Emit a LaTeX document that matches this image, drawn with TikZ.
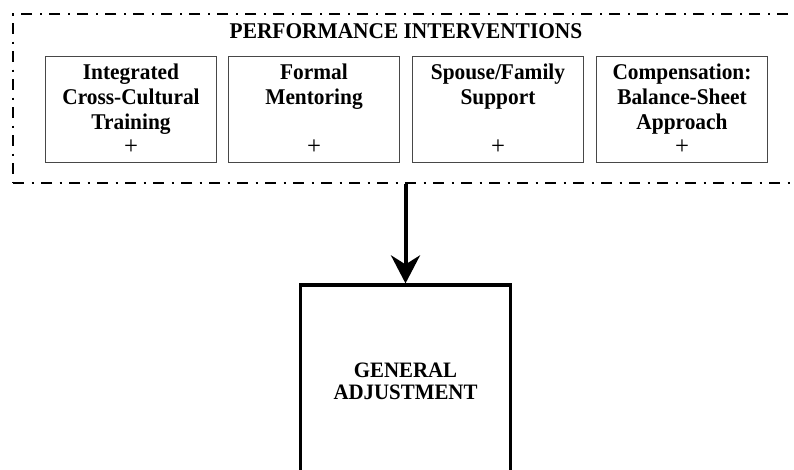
\documentclass[tikz,border=0pt]{standalone}
\usepackage{fontspec}
\setmainfont{Liberation Serif}[FakeStretch=0.95]
\usetikzlibrary{arrows.meta}

\newcommand{\plussign}{{\mdseries\fontsize{26}{25}\selectfont +}}

\begin{document}
\begin{tikzpicture}[x=1pt,y=-1pt,
  lbl/.style={font=\fontsize{22.5}{25}\selectfont\bfseries, align=center, text=black},
  interv/.style={draw=black!72, line width=1.3pt, minimum width=171pt, minimum height=106pt,
                 inner sep=0pt, lbl},
  framebox/.style={draw, line width=2pt, inner sep=0pt,
                   dash pattern=on 11pt off 7.5pt on 2pt off 7.5pt},
  outcome/.style={draw, line width=3.2pt, minimum width=210pt, minimum height=192pt,
                  inner sep=0pt, font=\fontsize{22}{22}\selectfont\bfseries, align=center},
  flow/.style={line width=4pt, -{Stealth[length=28pt,width=29pt,inset=9pt]}}
]
\useasboundingbox (0,0) rectangle (794,469);
\clip (0,0) rectangle (794,469);

% dash-dot frame around the interventions (runs off the right edge)
\node[framebox, minimum width=807pt, minimum height=169pt] (frame) at (416.5,98.5) {};
\node[lbl, anchor=base] (title) at (406,38) {PERFORMANCE INTERVENTIONS};

% the four interventions
\node[interv] (train) at (131,109.5) {Integrated\\Cross-Cultural\\Training\\\plussign};
\node[interv] (mentor) at (314,109.5) {Formal\\Mentoring\\\mbox{}\\\plussign};
\node[interv] (family) at (498,109.5) {Spouse/Family\\Support\\\mbox{}\\\plussign};
\node[interv] (comp) at (682,109.5) {Compensation:\\Balance-Sheet\\Approach\\\plussign};

% outcome box
\node[outcome] (adj) at (405.5,381) {GENERAL\\ADJUSTMENT};

% effect of the interventions on adjustment
\draw[flow] (frame.south -| adj.north) -- (adj.north);
\end{tikzpicture}
\end{document}
